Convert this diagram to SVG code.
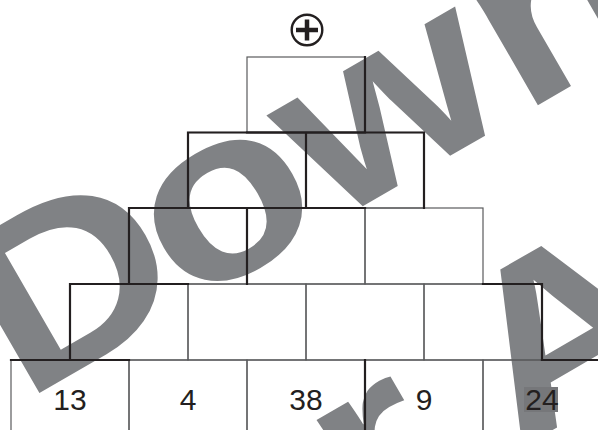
<svg xmlns="http://www.w3.org/2000/svg" width="598" height="430" viewBox="0 0 598 430">
<style>
.wm{fill:#808285;font-family:"Liberation Sans",Arial,sans-serif;font-weight:bold;font-size:240px}
.cell{fill:none;stroke:#5a5b5d;stroke-width:1.2}
.thick{stroke:#231f20;stroke-width:2.2;fill:none;stroke-linecap:square}
.num{font-family:"Liberation Sans",Arial,sans-serif;font-size:30px;fill:#231f20;text-anchor:middle}
</style>
<rect width="598" height="430" fill="#fff"/>
<g id="watermark" transform="translate(0,415.7) rotate(-30) scale(1.16,1)">
<text class="wm" x="23.2 185.3 329 518.7" y="0">Down</text>
<text class="wm" x="218.7 300 370.3" y="288.7">r A</text>
</g>
<rect x="524" y="387" width="34" height="25" fill="#76777a"/>
<g id="operator">
<circle cx="307" cy="30" r="15.3" fill="none" stroke="#231f20" stroke-width="2.4"/>
<path d="M296 30H318M307 19.5V40.5" stroke="#231f20" stroke-width="4.5" fill="none"/>
</g>
<g id="r1c1"><rect class="cell" x="247" y="57" width="118" height="75.5"/></g>
<g id="r2c1"><rect class="cell" x="188" y="132.5" width="118" height="75.5"/></g>
<g id="r2c2"><rect class="cell" x="306" y="132.5" width="118" height="75.5"/></g>
<g id="r3c1"><rect class="cell" x="129" y="208" width="118" height="76"/></g>
<g id="r3c2"><rect class="cell" x="247" y="208" width="118" height="76"/></g>
<g id="r3c3"><rect class="cell" x="365" y="208" width="118" height="76"/></g>
<g id="r4c1"><rect class="cell" x="70" y="284" width="118" height="76"/></g>
<g id="r4c2"><rect class="cell" x="188" y="284" width="118" height="76"/></g>
<g id="r4c3"><rect class="cell" x="306" y="284" width="118" height="76"/></g>
<g id="r4c4"><rect class="cell" x="424" y="284" width="118" height="76"/></g>
<g id="r5c1"><rect class="cell" x="11" y="360" width="118" height="80"/><text class="num" x="70" y="409.5">13</text></g>
<g id="r5c2"><rect class="cell" x="129" y="360" width="118" height="80"/><text class="num" x="188" y="409.5">4</text></g>
<g id="r5c3"><rect class="cell" x="247" y="360" width="118" height="80"/><text class="num" x="306" y="409.5">38</text></g>
<g id="r5c4"><rect class="cell" x="365" y="360" width="118" height="80"/><text class="num" x="424" y="409.5">9</text></g>
<g id="r5c5"><rect class="cell" x="483" y="360" width="118" height="80"/><text class="num" x="542" y="409.5">24</text></g>
<g id="edges">
<path class="thick" d="M365 57V132.5M247 132.5H365"/>
<path class="thick" d="M188 132.5H424M188 132.5V208M306 132.5V208M424 132.5V208"/>
<path class="thick" d="M129 208H365M129 208V284M247 208V284"/>
<path class="thick" d="M70 284H188M483 284H542M70 284V360M542 284V360"/>
<path class="thick" d="M11 360H129M542 360H600M365 360V432"/>
</g>
</svg>
